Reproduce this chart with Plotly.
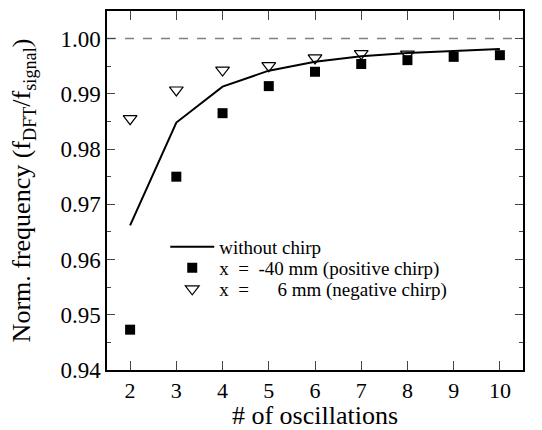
import plotly.graph_objects as go

oscillations = [2, 3, 4, 5, 6, 7, 8, 9, 10]
without_chirp = [0.9662, 0.9848, 0.9913, 0.9942, 0.9958, 0.9968, 0.9974, 0.9978, 0.9981]
pos_chirp = [0.9473, 0.9750, 0.9865, 0.9914, 0.9940, 0.9954, 0.9961, 0.9967, 0.9970]
neg_x = [2, 3, 4, 5, 6, 7, 8]
neg_chirp = [0.9855, 0.9907, 0.9943, 0.9951, 0.9965, 0.9973, 0.9972]
x_ticks = [2, 3, 4, 5, 6, 7, 8, 9, 10]
y_ticks = [0.94, 0.95, 0.96, 0.97, 0.98, 0.99, 1.00]
y_tick_labels = ["0.94", "0.95", "0.96", "0.97", "0.98", "0.99", "1.00"]

FONT = "Liberation Serif, serif"
SP = "\u2002"   # en space (math-like spacing around '=')
FS = "\u2007"   # figure space (digit width)

fig = go.Figure()
fig.add_trace(go.Scatter(x=oscillations, y=without_chirp, mode="lines",
                         line=dict(color="black", width=2), name="without chirp",
                         legend="legend"))
fig.add_trace(go.Scatter(x=oscillations, y=pos_chirp, mode="markers",
                         marker=dict(symbol="square", size=10, color="black"),
                         name="x" + SP + "=" + SP + "-40 mm (positive chirp)",
                         legend="legend2"))
fig.add_trace(go.Scatter(x=neg_x, y=neg_chirp, mode="markers",
                         marker=dict(symbol="triangle-down-open", size=12, color="black",
                                     line=dict(width=1.2, color="black")),
                         name="x" + SP + "=" + SP + FS + FS + "6 mm (negative chirp)",
                         legend="legend3"))

fig.add_shape(type="line", xref="paper", x0=0, x1=1, yref="y", y0=1.0, y1=1.0,
              line=dict(color="gray", width=1.5, dash="dash"), layer="below")

leg = dict(x=0.14, xanchor="left", yanchor="middle", bgcolor="rgba(0,0,0,0)",
           font=dict(size=19, family=FONT), itemwidth=44)
fig.update_layout(
    width=542, height=430,
    margin=dict(l=107, r=19, t=11, b=60, autoexpand=False),
    paper_bgcolor="white", plot_bgcolor="white",
    font=dict(family=FONT, color="black", size=23),
    showlegend=True,
    legend=dict(leg, y=0.3426),
    legend2=dict(leg, y=0.2841),
    legend3=dict(leg, y=0.2256),
)
fig.update_xaxes(range=[1.5, 10.5], tickvals=x_ticks, ticks="inside", ticklen=9,
                 tickwidth=1.2, showline=True, linewidth=1.5, linecolor="black",
                 mirror="ticks", showgrid=False, zeroline=False, automargin=True,
                 title=dict(text="# of oscillations", font=dict(size=26), standoff=0),
                 tickfont=dict(size=22))
fig.update_yaxes(range=[0.94, 1.005], tickvals=y_ticks, ticktext=y_tick_labels,
                 ticks="inside", ticklen=8, tickwidth=1.2,
                 minor=dict(dtick=0.005, tick0=0.94, ticks="inside", ticklen=4, tickwidth=1.2,
                            showgrid=False),
                 showline=True, linewidth=1.5, linecolor="black", automargin=False,
                 mirror="ticks", showgrid=False, zeroline=False,
                 title=dict(text="Norm. frequency (f<sub>DFT</sub>/f<sub>signal</sub>)",
                            font=dict(size=26), standoff=22),
                 tickfont=dict(size=23))

fig.write_html("out.html")
